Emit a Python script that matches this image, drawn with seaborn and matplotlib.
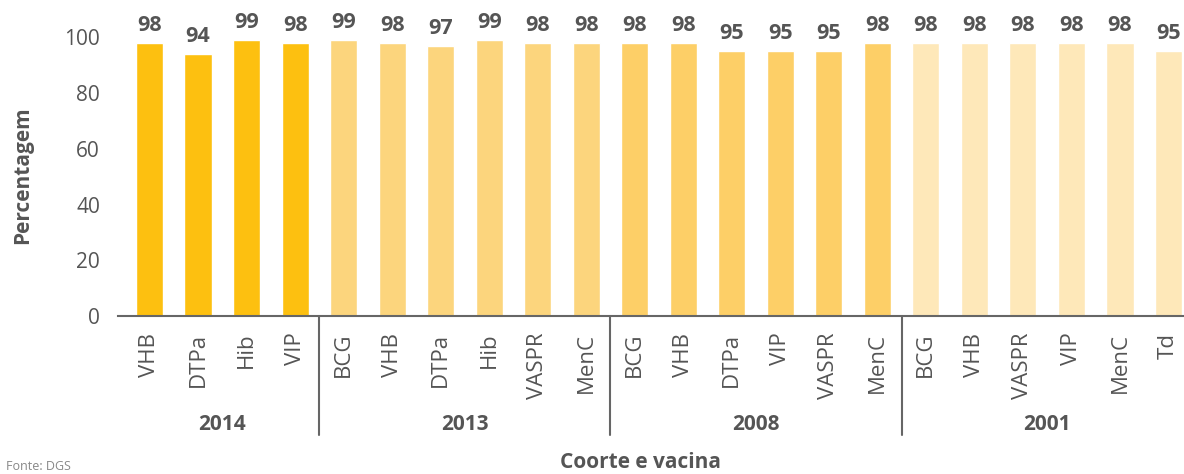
import matplotlib
matplotlib.use('Agg')
import matplotlib.pyplot as plt
import pandas as pd
import seaborn as sns

# dados
coortes = ['2014'] * 4 + ['2013'] * 6 + ['2008'] * 6 + ['2001'] * 6
vacinas = ['VHB', 'DTPa', 'Hib', 'VIP',
           'BCG', 'VHB', 'DTPa', 'Hib', 'VASPR', 'MenC',
           'BCG', 'VHB', 'DTPa', 'VIP', 'VASPR', 'MenC',
           'BCG', 'VHB', 'VASPR', 'VIP', 'MenC', 'Td']
valores = [98, 94, 99, 98,
           99, 98, 97, 99, 98, 98,
           98, 98, 95, 95, 95, 98,
           98, 98, 98, 98, 98, 95]
grupos = ['2014', '2013', '2008', '2001']
cores = {'2014': '#FDC010', '2013': '#FCD57D', '2008': '#FDCF67', '2001': '#FEE8B9'}

df = pd.DataFrame({'coorte': coortes, 'vacina': vacinas, 'valor': valores})
df['id'] = df['coorte'] + '|' + df['vacina']

sns.set_style('white')
plt.rcParams['font.family'] = ['Open Sans', 'DejaVu Sans']
cinza = '#555555'

fig = plt.figure(figsize=(11.84, 4.74), dpi=100)
ax = fig.add_axes([118 / 1184, 158 / 474, 1066 / 1184, 316 / 474])

sns.barplot(data=df, x='id', y='valor', hue='coorte', order=list(df['id']),
            hue_order=grupos, palette=cores, dodge=False, width=0.56,
            saturation=1, legend=False, ax=ax)

for c in ax.containers:
    ax.bar_label(c, fmt='%d', padding=5, fontsize=15.5, fontweight='bold', color=cinza)

ax.set_xlim(-0.65, 21.32)
ax.set_ylim(0, 113.4)
ax.set_yticks(range(0, 101, 20))
ax.tick_params(axis='y', length=0, pad=13, labelsize=15, labelcolor=cinza)
ax.set_xticks(range(len(vacinas)))
ax.set_xticklabels(vacinas, rotation=90, fontsize=16, color=cinza)
ax.tick_params(axis='x', length=0, pad=12)

sns.despine(ax=ax, left=True)
ax.spines['bottom'].set_color('#666666')
ax.spines['bottom'].set_linewidth(1.5)

# separadores e nomes das coortes
trans = ax.get_xaxis_transform()
inicio = 0
for i, g in enumerate(grupos):
    n = coortes.count(g)
    ax.text(inicio + (n - 1) / 2, -0.342, g, transform=trans, ha='center', va='center',
            fontsize=15, fontweight='bold', color=cinza)
    if i > 0:
        ax.plot([inicio - 0.5, inicio - 0.5], [0, -0.377], transform=trans,
                color='#666666', linewidth=1.5, clip_on=False)
    inicio += n

ax.set_xlabel('Coorte e vacina', fontsize=15, fontweight='bold', color=cinza)
ax.xaxis.set_label_coords(0.49, -0.465)
ax.xaxis.label.set_va('center')
ax.set_ylabel('Percentagem', fontsize=15, fontweight='bold', color=cinza)
ax.yaxis.set_label_coords(-0.08, 0.446)

fig.text(0.005, 1 / 474, 'Fonte: DGS', ha='left', va='bottom', fontsize=9, color='#888888')

fig.savefig('out.png', dpi=100)
